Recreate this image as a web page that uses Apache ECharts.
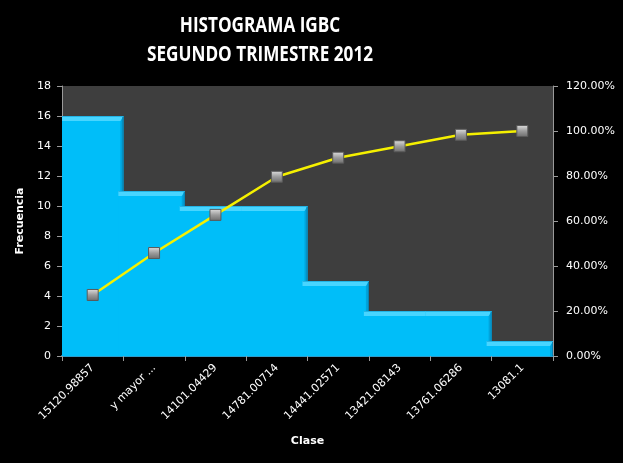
<!DOCTYPE html>
<html><head><meta charset="utf-8">
<script src="https://cdn.jsdelivr.net/npm/echarts@6/dist/echarts.min.js"></script>
<style>html,body{margin:0;padding:0;background:#000;}#c{width:623px;height:463px;}</style>
</head><body><div id="c"></div>
<script>
const titleLines = ['HISTOGRAMA IGBC', 'SEGUNDO TRIMESTRE 2012'];
const categories = ['15120.98857','y mayor ...','14101.04429','14781.00714','14441.02571','13421.08143','13761.06286','13081.1'];
const frecuencia = [16, 11, 10, 10, 5, 3, 3, 1];
const acumulado = [27.12, 45.76, 62.71, 79.66, 88.14, 93.22, 98.31, 100.00];
const leftTicks = {min: 0, max: 18, interval: 2};
const rightTicks = {min: 0, max: 120, interval: 20};

const titleFont = 'bold 21px "Open Sans", "Liberation Sans", sans-serif';
const mctx = document.createElement('canvas').getContext('2d');
mctx.font = titleFont;
const titleScale = Math.min(1, 226 / mctx.measureText(titleLines[1]).width);

const chart = echarts.init(document.getElementById('c'), null, {renderer: 'canvas'});
const lblFont = {color: '#fff', fontFamily: 'DejaVu Sans', fontSize: 11};

function renderBar(params, api) {
  const i = api.value(0), v = api.value(1);
  const top = api.coord([i, v]);
  const bot = api.coord([i, 0]);
  const w = api.size([1, 0])[0];
  const b = 5;
  const x0 = top[0] - w / 2, x1 = top[0] + w / 2, y0 = top[1], y1 = bot[1];
  const xl = i > 0 ? x0 - b : x0;
  return {
    type: 'group',
    children: [
      {type: 'rect', shape: {x: xl, y: y0, width: x1 - xl, height: y1 - y0}, style: {fill: '#00BEF9'}},
      {type: 'polygon', shape: {points: [[x1, y0], [x1, y1], [x1 - b + 2, y1], [x1 - b + 2, y0 + b]]}, style: {fill: '#00A4DC'}},
      {type: 'polygon', shape: {points: [[xl, y0], [x1, y0], [x1 - b + 2, y0 + b], [xl, y0 + b]]}, style: {fill: '#48D5FF'}},
      {type: 'line', shape: {x1: x1 - 0.5, y1: y0, x2: x1 - 0.5, y2: y1}, style: {stroke: '#0A7FAE', lineWidth: 1}},
      {type: 'line', shape: {x1: xl, y1: y0 + 0.5, x2: x1, y2: y0 + 0.5}, style: {stroke: '#22B4E6', lineWidth: 1}}
    ]
  };
}

chart.setOption({
  backgroundColor: '#000',
  animation: false,
  graphic: [{
    type: 'text', x: 260, y: 12, scaleX: titleScale, z: 10,
    style: {
      text: titleLines.join('\n'), fill: '#fff', textAlign: 'center', textVerticalAlign: 'top',
      font: titleFont, lineHeight: 29
    }
  }],
  grid: {left: 62, right: 70, top: 86, bottom: 107, show: true, backgroundColor: '#3E3E3E', borderWidth: 0},
  xAxis: {
    type: 'category', data: categories, boundaryGap: true,
    name: 'Clase', nameLocation: 'middle', nameGap: 80,
    nameTextStyle: {color: '#fff', fontFamily: 'DejaVu Sans', fontWeight: 'bold', fontSize: 11},
    axisLine: {lineStyle: {color: '#2C9CCB', width: 2}},
    axisTick: {show: true, alignWithLabel: false, length: 5, lineStyle: {color: '#9a9a9a'}},
    axisLabel: Object.assign({rotate: 45, margin: 10, interval: 0}, lblFont),
    splitLine: {show: false}
  },
  yAxis: [
    {
      type: 'value', min: leftTicks.min, max: leftTicks.max, interval: leftTicks.interval,
      name: 'Frecuencia', nameLocation: 'middle', nameGap: 28, nameRotate: 90,
      nameTextStyle: {color: '#fff', fontFamily: 'DejaVu Sans', fontWeight: 'bold', fontSize: 11},
      axisLine: {show: true, lineStyle: {color: '#9a9a9a'}},
      axisTick: {show: true, length: 5, lineStyle: {color: '#9a9a9a'}},
      axisLabel: Object.assign({margin: 11}, lblFont),
      splitLine: {show: false}
    },
    {
      type: 'value', min: rightTicks.min, max: rightTicks.max, interval: rightTicks.interval, position: 'right',
      axisLine: {show: true, lineStyle: {color: '#9a9a9a'}},
      axisTick: {show: true, length: 5, lineStyle: {color: '#9a9a9a'}},
      axisLabel: Object.assign({margin: 13, formatter: v => v.toFixed(2) + '%'}, lblFont),
      splitLine: {show: false}
    }
  ],
  series: [
    {
      type: 'custom', name: 'Frecuencia', yAxisIndex: 0,
      data: frecuencia.map((v, i) => [i, v]),
      encode: {x: 0, y: 1},
      renderItem: renderBar, z: 2
    },
    {
      type: 'line', name: '% acumulado', yAxisIndex: 1, data: acumulado, z: 5,
      lineStyle: {color: '#F5F000', width: 2.5},
      symbol: 'rect', symbolSize: 11,
      itemStyle: {
        color: new echarts.graphic.LinearGradient(0, 0, 0, 1, [{offset: 0, color: '#e0e0e0'}, {offset: 0.5, color: '#9c9c9c'}, {offset: 1, color: '#6c6c6c'}]),
        borderColor: '#5a5a5a', borderWidth: 1
      }
    }
  ]
});
</script></body></html>
